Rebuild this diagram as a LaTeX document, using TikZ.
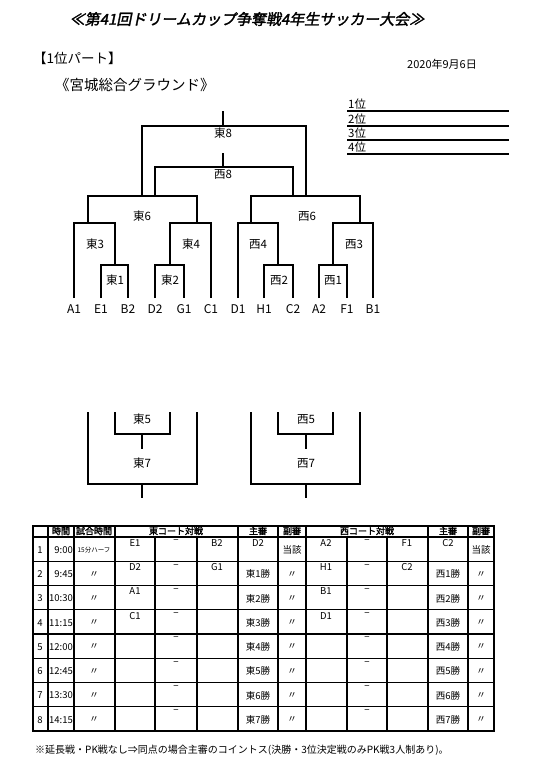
\documentclass[tikz,border=0pt]{standalone}
\usepackage{fontspec}
\setmainfont{Noto Sans CJK JP}[AutoFakeBold=2, AutoFakeSlant=0.2]
\usetikzlibrary{positioning}

\begin{document}
\begin{tikzpicture}[x=1pt, y=-1pt,
    bar/.style={draw=black, line width=1.6pt},
    grid/.style={draw=black, line width=1.4pt},
    frame/.style={draw=black, line width=2pt},
    match/.style={font=\fontsize{11.5}{13}\selectfont, inner sep=0pt},
    team/.style={font=\fontsize{12}{14}\selectfont, anchor=north, inner xsep=0pt, inner ysep=6pt},
    rank/.style={font=\fontsize{11.5}{13}\selectfont, anchor=south west, inner xsep=1pt, inner ysep=1pt},
    head/.style={font=\fontsize{9}{10}\selectfont\bfseries, inner sep=0pt},
    cell/.style={font=\fontsize{9.5}{11}\selectfont, inner sep=0pt},
    tiny/.style={font=\fontsize{6.5}{7}\selectfont, inner sep=0pt}]
    \useasboundingbox (0,0) rectangle (537,769);

    \node [font=\fontsize{15}{18}\selectfont\bfseries\itshape] (title) at (247,19) {≪第41回ドリームカップ争奪戦4年生サッカー大会≫};
    \node [font=\fontsize{13.5}{16}\selectfont, anchor=west, inner sep=0pt] (part) at (33,58) {【1位パート】};
    \node [font=\fontsize{11}{13}\selectfont] (date) at (442,64) {2020年9月6日};
    \node [font=\fontsize{14.5}{17}\selectfont, anchor=west, inner sep=0pt] (ground) at (55,85) {《宮城総合グラウンド》};

    % ranking
    \node [rank] (r1) at (347,111) {1位};
    \node [rank] (r2) at (347,126) {2位};
    \node [rank] (r3) at (347,140) {3位};
    \node [rank] (r4) at (347,154) {4位};
    \foreach \r in {r1,r2,r3,r4}
        \draw [line width=1.5pt] (\r.south west) -- ++(162,0);

    % teams
    \node [team] (A1) at (74,298) {A1};
    \node [team] (E1) at (101,298) {E1};
    \node [team] (B2) at (128,298) {B2};
    \node [team] (D2) at (155,298) {D2};
    \node [team] (G1) at (184,298) {G1};
    \node [team] (C1) at (211,298) {C1};
    \node [team] (D1) at (238,298) {D1};
    \node [team] (H1) at (264,298) {H1};
    \node [team] (C2) at (293,298) {C2};
    \node [team] (A2) at (319,298) {A2};
    \node [team] (F1) at (347,298) {F1};
    \node [team] (B1) at (373,298) {B1};

    \coordinate (k1) at (115,265);
    \coordinate (k2) at (170,265);
    \coordinate (k3) at (88,223);
    \coordinate (k4) at (197,223);
    \coordinate (k6) at (142,196);
    \coordinate (k6b) at (155,196);
    \coordinate (w2) at (278,265);
    \coordinate (w1) at (333,265);
    \coordinate (w4) at (251,223);
    \coordinate (w3) at (360,223);
    \coordinate (w6) at (306,196);
    \coordinate (w6b) at (293,196);
    \coordinate (f8) at (223,126);
    \coordinate (f8top) at (223,111);
    \coordinate (s8) at (223,167);
    \coordinate (s8top) at (223,153);

    \draw [bar] (E1.north) |- (k1) -| (B2.north);
    \draw [bar] (D2.north) |- (k2) -| (G1.north);
    \draw [bar] (A1.north) |- (k3) -| (k1);
    \draw [bar] (k2) |- (k4) -| (C1.north);
    \draw [bar] (k3) |- (k6) -| (k4);
    \draw [bar] (H1.north) |- (w2) -| (C2.north);
    \draw [bar] (A2.north) |- (w1) -| (F1.north);
    \draw [bar] (D1.north) |- (w4) -| (w2);
    \draw [bar] (w1) |- (w3) -| (B1.north);
    \draw [bar] (w4) |- (w6) -| (w3);
    \draw [bar] (k6) |- (f8) -| (w6);
    \draw [bar] (f8) -- (f8top);
    \draw [bar] (k6b) |- (s8) -| (w6b);
    \draw [bar] (s8) -- (s8top);

    \node [match] (m1) at (115,280) {東1};
    \node [match] (m2) at (170,280) {東2};
    \node [match] (m3) at (95,244) {東3};
    \node [match] (m4) at (191,244) {東4};
    \node [match] (m6) at (142,216) {東6};
    \node [match] (m8) at (223,133) {東8};
    \node [match] (n1) at (333,280) {西1};
    \node [match] (n2) at (279,280) {西2};
    \node [match] (n3) at (354,244) {西3};
    \node [match] (n4) at (258,244) {西4};
    \node [match] (n6) at (307,216) {西6};
    \node [match] (n8) at (223,174) {西8};

    % lower brackets
    \coordinate (k5) at (142,434);
    \coordinate (k7) at (142,484);
    \coordinate (w5) at (306,434);
    \coordinate (w7) at (306,484);
    \draw [bar] (115,412) |- (k5) -| (170,412);
    \draw [bar] (k5) -- ++(0,15);
    \draw [bar] (88,412) |- (k7) -| (197,412);
    \draw [bar] (k7) -- ++(0,14);
    \draw [bar] (278,412) |- (w5) -| (333,412);
    \draw [bar] (w5) -- ++(0,15);
    \draw [bar] (251,412) |- (w7) -| (360,412);
    \draw [bar] (w7) -- ++(0,14);
    \node [match] (m5) at (142,419) {東5};
    \node [match] (m7) at (142,463) {東7};
    \node [match] (n5) at (306,419) {西5};
    \node [match] (n7) at (306,463) {西7};

    % table
    \foreach \y in {537,561.25,585.5,609.75,634,658.25,682.5,706.75}
        \draw [grid] (33,\y) -- (494,\y);
    \foreach \x in {48,74,115,155,197,238,278,306,347,387,428,468}
        \draw [grid] (\x,537) -- (\x,731);
    \foreach \x in {48,74,115,238,278,306,428,468}
        \draw [grid] (\x,526) -- (\x,537);
    \draw [frame] (33,526) rectangle (494,731);

    \node [head] (h1) at (61,531) {時間};
    \node [head] (h2) at (94,531) {試合時間};
    \node [head] (h3) at (176,531) {東コート対戦};
    \node [head] (h4) at (258,531) {主審};
    \node [head] (h5) at (292,531) {副審};
    \node [head] (h6) at (367,531) {西コート対戦};
    \node [head] (h7) at (448,531) {主審};
    \node [head] (h8) at (481,531) {副審};

    \node [cell] (no1) at (40,550) {1};
    \node [cell, anchor=east] (tm1) at (73,550) {9:00};
    \node [tiny] (len1) at (94,550) {15分ハーフ};
    \node [cell] (ea1) at (135,543) {E1};
    \node [cell] (ed1) at (176,542) {−};
    \node [cell] (eb1) at (217,543) {B2};
    \node [cell] (er1) at (258,543) {D2};
    \node [cell] (es1) at (292,550) {当該};
    \node [cell] (wa1) at (326,543) {A2};
    \node [cell] (wd1) at (367,542) {−};
    \node [cell] (wb1) at (407,543) {F1};
    \node [cell] (wr1) at (448,543) {C2};
    \node [cell] (ws1) at (481,550) {当該};

    \foreach \rn/\tm/\ea/\eb/\er/\wa/\wb/\wr in {2/9:45/D2/G1/東1勝/H1/C2/西1勝,
        3/10:30/A1//東2勝/B1//西2勝, 4/11:15/C1//東3勝/D1//西3勝,
        5/12:00///東4勝///西4勝, 6/12:45///東5勝///西5勝,
        7/13:30///東6勝///西6勝, 8/14:15///東7勝///西7勝} {
        \pgfmathsetmacro{\top}{537+24.25*(\rn-1)}
        \pgfmathsetmacro{\mid}{\top+13}
        \node [cell] (no\rn) at (40,\mid) {\rn};
        \node [cell, anchor=east] (tm\rn) at (73,\mid) {\tm};
        \node [cell] (len\rn) at (94,\mid) {〃};
        \node [cell] (ea\rn) at (135,\top+6) {\ea};
        \node [cell] (ed\rn) at (176,\top+5) {−};
        \node [cell] (eb\rn) at (217,\top+6) {\eb};
        \node [cell] (er\rn) at (258,\mid) {\er};
        \node [cell] (es\rn) at (292,\mid) {〃};
        \node [cell] (wa\rn) at (326,\top+6) {\wa};
        \node [cell] (wd\rn) at (367,\top+5) {−};
        \node [cell] (wb\rn) at (407,\top+6) {\wb};
        \node [cell] (wr\rn) at (448,\mid) {\wr};
        \node [cell] (ws\rn) at (481,\mid) {〃};
    }

    \node [font=\fontsize{10}{12}\selectfont, anchor=west, inner sep=0pt] (note) at (35,750) {※延長戦・PK戦なし⇒同点の場合主審のコイントス(決勝・3位決定戦のみPK戦3人制あり)。};
\end{tikzpicture}
\end{document}
